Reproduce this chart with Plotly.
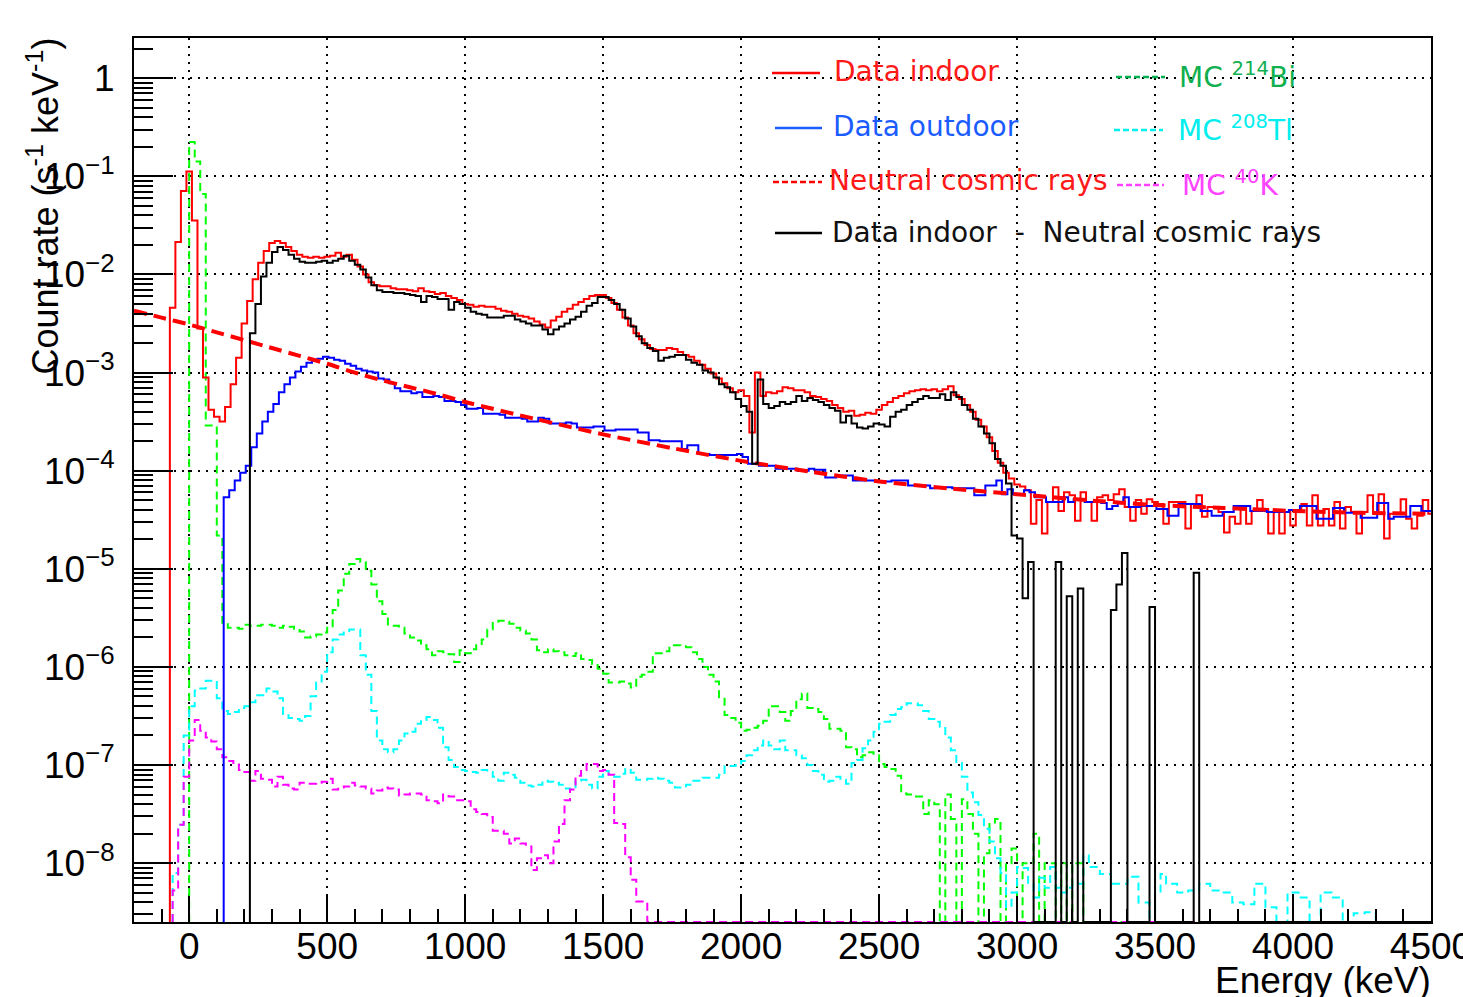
import math
import plotly.graph_objects as go

# ---------------------------------------------------------------------------
# Data. Values are log10 of the count rate
# in s^-1 keV^-1, one value per 20 keV bin, starting at the given energy.
# None = empty bin.
# ---------------------------------------------------------------------------
BIN_KEV = 20.0

indoor_start = -70
indoor_log10 = [
    -2.34, -1.67, -1.15, -0.95, -1.45, -2.55, -3.05, -3.38, -3.45, -3.50,
    -3.35, -3.12, -2.85, -2.50, -2.27, -2.05, -1.88, -1.76, -1.68, -1.66,
    -1.68, -1.72, -1.76, -1.80, -1.82, -1.83, -1.82, -1.83, -1.82, -1.81,
    -1.78, -1.82, -1.80, -1.85, -1.92, -2.00, -2.08, -2.11, -2.12, -2.12,
    -2.14, -2.15, -2.15, -2.16, -2.17, -2.14, -2.17, -2.18, -2.20, -2.19,
    -2.22, -2.24, -2.26, -2.30, -2.31, -2.33, -2.32, -2.33, -2.33, -2.35,
    -2.37, -2.38, -2.40, -2.42, -2.43, -2.45, -2.48, -2.51, -2.54, -2.47,
    -2.43, -2.38, -2.35, -2.31, -2.28, -2.25, -2.22, -2.21, -2.21, -2.24,
    -2.29, -2.36, -2.44, -2.52, -2.60, -2.66, -2.72, -2.76, -2.77, -2.77,
    -2.75, -2.76, -2.79, -2.82, -2.84, -2.88, -2.92, -2.96, -3.01, -3.06,
    -3.11, -3.16, -3.20, -3.18, -3.24, -3.61, -3.00, -3.24, -3.20, -3.21,
    -3.19, -3.15, -3.16, -3.18, -3.18, -3.20, -3.24, -3.25, -3.27, -3.29,
    -3.33, -3.36, -3.40, -3.39, -3.44, -3.43, -3.41, -3.42, -3.38, -3.33,
    -3.30, -3.26, -3.24, -3.21, -3.19, -3.18, -3.17, -3.18, -3.17, -3.19,
    -3.17, -3.14, -3.23, -3.27, -3.33, -3.40, -3.48, -3.55, -3.66, -3.80,
    -3.92, -4.02, -4.08, -4.14, -4.16, -4.20, -4.54, -4.30, -4.64, -4.32,
    -4.17, -4.41, -4.22, -4.25, -4.51, -4.22, -4.32, -4.51, -4.27, -4.25,
    -4.30, -4.24, -4.19, -4.37, -4.51, -4.30, -4.44, -4.29, -4.32, -4.34,
    -4.54, -4.32, -4.32, -4.32, -4.59, -4.34, -4.25, -4.47, -4.37, -4.37,
    -4.42, -4.63, -4.47, -4.54, -4.37, -4.54, -4.41, -4.30, -4.39, -4.64,
    -4.41, -4.64, -4.42, -4.56, -4.41, -4.34, -4.56, -4.25, -4.56, -4.39,
    -4.56, -4.32, -4.59, -4.37, -4.42, -4.64, -4.42, -4.25, -4.44, -4.24,
    -4.69, -4.44, -4.44, -4.29, -4.49, -4.59, -4.46, -4.30, -4.44,
]

outdoor_start = 125
outdoor_log10 = [
    -4.27, -4.20, -4.10, -4.02, -3.95, -3.76, -3.62, -3.50, -3.40, -3.32,
    -3.20, -3.12, -3.05, -2.99, -2.94, -2.90, -2.87, -2.86, -2.84, -2.85,
    -2.87, -2.88, -2.91, -2.93, -2.96, -2.98, -2.99, -3.00, -3.06, -3.07,
    -3.11, -3.16, -3.19, -3.19, -3.21, -3.20, -3.25, -3.25, -3.24, -3.25,
    -3.29, -3.29, -3.30, -3.33, -3.37, -3.37, -3.36, -3.42, -3.42, -3.42,
    -3.43, -3.46, -3.46, -3.46, -3.47, -3.50, -3.50, -3.46, -3.47, -3.52,
    -3.52, -3.52, -3.51, -3.52, -3.56, -3.56, -3.56, -3.55, -3.55, -3.59,
    -3.59, -3.58, -3.58, -3.58, -3.58, -3.61, -3.61, -3.69, -3.69, -3.70,
    -3.70, -3.70, -3.70, -3.78, -3.74, -3.74, -3.83, -3.83, -3.84, -3.84,
    -3.84, -3.84, -3.84, -3.83, -3.86, -3.93, -3.93, -3.95, -3.95, -3.95,
    -3.98, -3.98, -3.98, -3.98, -4.00, -4.00, -3.98, -3.99, -3.99, -4.07,
    -4.07, -4.05, -4.05, -4.05, -4.10, -4.10, -4.10, -4.10, -4.11, -4.11,
    -4.11, -4.10, -4.10, -4.10, -4.15, -4.15, -4.15, -4.15, -4.18, -4.17,
    -4.17, -4.17, -4.18, -4.18, -4.18, -4.18, -4.25, -4.25, -4.15, -4.15,
    -4.10, -4.24, -4.19, -4.24, -4.24, -4.20, -4.22, -4.27, -4.27, -4.32,
    -4.32, -4.32, -4.27, -4.32, -4.29, -4.30, -4.32, -4.32, -4.32, -4.33,
    -4.39, -4.36, -4.33, -4.27, -4.37, -4.37, -4.36, -4.36, -4.36, -4.39,
    -4.39, -4.46, -4.46, -4.34, -4.34, -4.34, -4.34, -4.41, -4.41, -4.46,
    -4.46, -4.42, -4.42, -4.36, -4.36, -4.36, -4.41, -4.41, -4.41, -4.42,
    -4.42, -4.42, -4.42, -4.40, -4.40, -4.36, -4.36, -4.36, -4.49, -4.49,
    -4.49, -4.38, -4.38, -4.43, -4.43, -4.43, -4.48, -4.48, -4.48, -4.33,
    -4.33, -4.49, -4.47, -4.47, -4.47, -4.36, -4.36, -4.41, -4.41,
]

subtracted_start = 220
subtracted_log10 = [
    -2.60, -2.30, -2.02, -1.88, -1.77, -1.72, -1.75, -1.80, -1.84, -1.87,
    -1.88, -1.88, -1.87, -1.86, -1.88, -1.86, -1.84, -1.81, -1.86, -1.90,
    -1.95, -2.03, -2.11, -2.16, -2.18, -2.18, -2.19, -2.19, -2.20, -2.21,
    -2.22, -2.28, -2.22, -2.23, -2.25, -2.25, -2.36, -2.28, -2.30, -2.34,
    -2.38, -2.40, -2.41, -2.44, -2.44, -2.44, -2.42, -2.42, -2.46, -2.48,
    -2.50, -2.52, -2.52, -2.56, -2.61, -2.56, -2.53, -2.50, -2.46, -2.43,
    -2.38, -2.32, -2.29, -2.23, -2.23, -2.26, -2.30, -2.36, -2.45, -2.53,
    -2.63, -2.70, -2.75, -2.78, -2.88, -2.85, -2.84, -2.82, -2.82, -2.87,
    -2.90, -2.92, -2.98, -3.00, -3.05, -3.12, -3.15, -3.20, -3.27, -3.34,
    -3.40, -3.93, -3.07, -3.32, -3.36, -3.34, -3.30, -3.32, -3.30, -3.24,
    -3.29, -3.26, -3.28, -3.30, -3.33, -3.36, -3.39, -3.51, -3.44, -3.52,
    -3.56, -3.57, -3.55, -3.52, -3.53, -3.55, -3.45, -3.40, -3.38, -3.33,
    -3.30, -3.27, -3.24, -3.26, -3.26, -3.22, -3.28, -3.20, -3.25, -3.33,
    -3.38, -3.47, -3.55, -3.62, -3.72, -3.88, -3.95, -4.13, -4.66, -4.69,
    -5.30, -4.93, None, None, None, None, -4.93, None, -5.28, None,
    -5.20, None, None, None, None, None, -5.42, -5.16, -4.84, None,
    None, None, None, -5.39, None, None, None, None, None, None,
    None, -5.04,
]

bi214_start = 0
bi214_log10 = [
    -0.65, -0.85, -1.18, -3.54, -3.54, -4.66, -5.55, -5.60, -5.60, -5.61,
    -5.57, -5.58, -5.58, -5.57, -5.57, -5.58, -5.60, -5.58, -5.59, -5.61,
    -5.64, -5.70, -5.69, -5.67, -5.65, -5.60, -5.42, -5.22, -5.05, -4.95,
    -4.90, -4.93, -5.02, -5.16, -5.33, -5.46, -5.58, -5.58, -5.60, -5.66,
    -5.70, -5.73, -5.78, -5.82, -5.88, -5.84, -5.85, -5.87, -5.95, -5.83,
    -5.86, -5.82, -5.78, -5.72, -5.62, -5.54, -5.53, -5.54, -5.56, -5.60,
    -5.63, -5.66, -5.72, -5.83, -5.85, -5.82, -5.84, -5.85, -5.88, -5.89,
    -5.86, -5.92, -5.93, -5.97, -6.02, -6.07, -6.16, -6.16, -6.15, -6.17,
    -6.21, -6.10, -6.08, -6.05, -5.86, -5.86, -5.84, -5.78, -5.78, -5.79,
    -5.80, -5.85, -5.92, -6.00, -6.08, -6.15, -6.31, -6.49, -6.52, -6.57,
    -6.65, -6.64, -6.62, -6.60, -6.55, -6.40, -6.40, -6.46, -6.55, -6.45,
    -6.33, -6.27, -6.42, -6.43, -6.46, -6.53, -6.63, -6.63, -6.65, -6.82,
    -6.84, -6.92, -6.90, -6.87, -6.90, -6.99, -7.02, -7.04, -7.11, -7.29,
    -7.30, -7.32, -7.32, -7.50, -7.36, -7.40, None, -7.30, -7.55, None,
    -7.35, -7.50, -7.70, None, -7.90, -7.60, -7.55, None, -8.00, -7.85,
    None, -8.00, -8.00, -7.70, None, -8.00, -8.00, None, -8.00, None,
    -8.00, -8.00,
]

tl208_start = -60
tl208_log10 = [
    -8.10, -7.61, -6.70, -6.40, -6.24, -6.22, -6.14, -6.14, -6.32, -6.45,
    -6.48, -6.46, -6.42, -6.40, -6.36, -6.29, -6.29, -6.22, -6.25, -6.32,
    -6.48, -6.52, -6.53, -6.55, -6.50, -6.30, -6.16, -6.05, -5.85, -5.72,
    -5.67, -5.65, -5.62, -5.62, -5.88, -6.08, -6.45, -6.75, -6.84, -6.87,
    -6.84, -6.75, -6.68, -6.66, -6.58, -6.54, -6.51, -6.54, -6.62, -6.82,
    -6.95, -7.02, -7.05, -7.06, -7.07, -7.08, -7.05, -7.07, -7.12, -7.16,
    -7.08, -7.10, -7.13, -7.18, -7.21, -7.22, -7.20, -7.16, -7.17, -7.18,
    -7.20, -7.24, -7.25, -7.16, -7.15, -7.20, -7.24, -7.12, -7.06, -7.10,
    -7.12, -7.09, -7.04, -7.08, -7.15, -7.15, -7.14, -7.13, -7.14, -7.16,
    -7.18, -7.23, -7.22, -7.20, -7.16, -7.16, -7.13, -7.13, -7.13, -7.10,
    -7.01, -7.01, -7.00, -6.96, -6.90, -6.85, -6.80, -6.75, -6.80, -6.84,
    -6.75, -6.85, -6.85, -6.90, -6.93, -7.00, -7.06, -7.10, -7.17, -7.16,
    -7.12, -7.15, -7.19, -6.98, -6.95, -6.83, -6.75, -6.66, -6.58, -6.56,
    -6.49, -6.43, -6.41, -6.37, -6.37, -6.39, -6.45, -6.53, -6.56, -6.61,
    -6.72, -6.85, -6.98, -7.12, -7.28, -7.38, -7.51, -7.65, -7.78, -7.95,
    -8.10, -8.45, -8.30, -8.04, -8.05, -8.20, -8.35, -8.15, -8.25, -8.04,
    -8.25, -8.30, -8.25, -8.21, -8.21, -7.92, -8.04, -8.04, -8.11, -8.11,
    -8.21, -8.21, -8.21, -8.14, -8.14, -8.40, -8.40, None, -8.30, -8.11,
    -8.21, -8.21, -8.30, -8.30, -8.28, -8.28, -8.21, -8.21, -8.28, -8.28,
    -8.30, -8.30, -8.40, -8.40, -8.42, -8.42, -8.21, -8.21, -8.45, -8.45,
    None, None, -8.30, -8.30, -8.35, -8.35, None, None, -8.30, -8.30,
    -8.35, -8.35, None, None, -8.51, -8.51, -8.50, -8.50,
]

k40_start = -60
k40_log10 = [
    -8.28, -7.61, -7.12, -6.75, -6.54, -6.65, -6.72, -6.76, -6.84, -6.92,
    -6.96, -6.98, -7.05, -7.07, -7.16, -7.06, -7.14, -7.15, -7.22, -7.12,
    -7.20, -7.24, -7.25, -7.18, -7.19, -7.19, -7.18, -7.17, -7.14, -7.25,
    -7.23, -7.22, -7.18, -7.21, -7.22, -7.24, -7.29, -7.26, -7.23, -7.24,
    -7.25, -7.31, -7.30, -7.29, -7.29, -7.30, -7.36, -7.37, -7.39, -7.30,
    -7.32, -7.36, -7.36, -7.37, -7.45, -7.48, -7.50, -7.53, -7.67, -7.67,
    -7.70, -7.80, -7.75, -7.80, -7.83, -8.07, -7.95, -7.92, -8.00, -7.78,
    -7.60, -7.36, -7.25, -7.11, -7.05, -6.99, -6.99, -7.06, -7.05, -7.10,
    -7.59, -7.60, -7.94, -8.17, -8.39, -8.39,
]

# Neutral cosmic-ray model curve (smooth function), sampled energies/values
cosmic_energy = [-200, -100, 0, 100, 200, 300, 400, 500, 600, 700, 800, 900,
                 1000, 1250, 1500, 1750, 2000, 2250, 2500, 2750, 3000, 3250,
                 3500, 3750, 4000, 4250, 4500]
cosmic_log10 = [-2.37, -2.44, -2.51, -2.59, -2.67, -2.75, -2.83, -2.91, -3.00,
                -3.08, -3.15, -3.22, -3.30, -3.47, -3.63, -3.77, -3.90, -4.01,
                -4.11, -4.18, -4.24, -4.30, -4.35, -4.38, -4.41, -4.43, -4.44]

x_tick_values = [0, 500, 1000, 1500, 2000, 2500, 3000, 3500, 4000, 4500]
y_tick_values = [1e-8, 1e-7, 1e-6, 1e-5, 1e-4, 1e-3, 1e-2, 1e-1, 1]
y_tick_text = ["10<sup>\u22128</sup>", "10<sup>\u22127</sup>", "10<sup>\u22126</sup>",
               "10<sup>\u22125</sup>", "10<sup>\u22124</sup>", "10<sup>\u22123</sup>",
               "10<sup>\u22122</sup>", "10<sup>\u22121</sup>", "1"]

# ---------------------------------------------------------------------------
X_RANGE = [-200, 4500]
Y_RANGE_LOG = [-8.6, 0.41]
Y_BOTTOM = 10 ** Y_RANGE_LOG[0]

W, H = 1463, 997
ML, MR, MT, MB = 134, 32, 38, 75
PW, PH = W - ML - MR, H - MT - MB


def px_x(p):
    return (p - ML) / PW


def px_y(p):
    return (H - MB - p) / PH


def step_xy(start, logs):
    n_total = math.ceil((X_RANGE[1] - start) / BIN_KEV)
    vals = list(logs) + [None] * max(0, n_total - len(logs))
    xs, ys = [start], [Y_BOTTOM]
    for i, v in enumerate(vals):
        xs.append(start + i * BIN_KEV)
        ys.append(Y_BOTTOM if v is None else 10 ** v)
    xs.append(start + len(vals) * BIN_KEV)
    ys.append(ys[-1])
    return xs, ys


fig = go.Figure()

MC_DASH = "8px,5px"


def add_hist(start, logs, color, width, dash="solid", name=""):
    xs, ys = step_xy(start, logs)
    fig.add_trace(go.Scatter(x=xs, y=ys, mode="lines", line_shape="hv",
                             line=dict(color=color, width=width, dash=dash),
                             name=name, showlegend=False, hoverinfo="skip"))


add_hist(bi214_start, bi214_log10, "#00ff00", 2, MC_DASH, "MC 214Bi")
add_hist(tl208_start, tl208_log10, "#00ffff", 2, MC_DASH, "MC 208Tl")
add_hist(k40_start, k40_log10, "#ff00ff", 2, MC_DASH, "MC 40K")
add_hist(indoor_start, indoor_log10, "#ff0000", 2, name="Data indoor")
add_hist(outdoor_start, outdoor_log10, "#0000ff", 2, name="Data outdoor")

fig.add_trace(go.Scatter(
    x=cosmic_energy, y=[10 ** v for v in cosmic_log10], mode="lines",
    line=dict(color="#ff0000", width=4, dash="13px,7px", shape="spline", smoothing=0.6),
    showlegend=False, hoverinfo="skip", name="Neutral cosmic rays"))

add_hist(subtracted_start, subtracted_log10, "#000000", 2,
         name="Data indoor - Neutral cosmic rays")

# y minor ticks (2..9 x 10^n)
y_minor = [k * 10.0 ** n for n in range(-9, 1) for k in range(2, 10)
           if Y_RANGE_LOG[0] <= math.log10(k * 10.0 ** n) <= Y_RANGE_LOG[1]]

TICK_FONT = dict(family="Liberation Sans, Arial, sans-serif", size=37, color="black")
GRID_DASH = "2px,6px"

fig.update_layout(
    width=W, height=H, autosize=False,
    margin=dict(l=ML, r=MR, t=MT, b=MB, pad=0, autoexpand=False),
    paper_bgcolor="white", plot_bgcolor="white",
    showlegend=False,
    xaxis=dict(
        range=X_RANGE, tickmode="array", tickvals=x_tick_values,
        ticks="inside", ticklen=26, tickwidth=2, tickcolor="black",
        minor=dict(dtick=100, tick0=0, ticks="inside", ticklen=13, tickwidth=2,
                   tickcolor="black", showgrid=False),
        showgrid=True, gridcolor="black", gridwidth=2, griddash=GRID_DASH,
        showline=True, linecolor="black", linewidth=2, mirror=True,
        zeroline=False, tickfont=TICK_FONT, automargin=False,
        ticklabeloverflow="allow", ticklabelstandoff=-9,
    ),
    yaxis=dict(
        type="log", range=Y_RANGE_LOG, tickmode="array",
        tickvals=y_tick_values, ticktext=y_tick_text,
        ticks="inside", ticklen=39, tickwidth=2, tickcolor="black",
        minor=dict(tickmode="array", tickvals=y_minor, ticks="inside", ticklen=19,
                   tickwidth=2, tickcolor="black", showgrid=False),
        showgrid=True, gridcolor="black", gridwidth=2, griddash=GRID_DASH,
        showline=True, linecolor="black", linewidth=2, mirror=True,
        zeroline=False, tickfont=TICK_FONT, ticklabelstandoff=10, automargin=False,
    ),
)

# Axis titles (ROOT style: aligned to the axis ends)
fig.add_annotation(text="Energy (keV)", xref="paper", yref="paper",
                   x=px_x(1433), y=px_y(958), xanchor="right", yanchor="top",
                   showarrow=False, font=TICK_FONT)
fig.add_annotation(text="Count rate (s<sup>-1</sup> keV<sup>-1</sup>)",
                   xref="paper", yref="paper", x=px_x(42), y=px_y(36),
                   xanchor="center", yanchor="top", textangle=-90,
                   showarrow=False,
                   font=dict(family="Liberation Sans, Arial, sans-serif", size=36,
                             color="black"))

# Legend (drawn manually to match the two-column layout with coloured text)
LEG_FONT = "DejaVu Sans, sans-serif"
LEG_SIZE = 28
legend_items = [
    # (line x0, line x1, y, line color, dash, text x, text, text color)
    (772, 820, 73, "#ff0000", "solid", 832, "Data indoor", "#ff1a1a"),
    (775, 822, 128, "#1a5cff", "solid", 831, "Data outdoor", "#1a5cff"),
    (773, 822, 182, "#ff0000", "6px,3px", 827, "Neutral cosmic rays", "#ff1a1a"),
    (775, 822, 233, "#000000", "solid", 830, "Data indoor  -  Neutral cosmic rays", "#111111"),
    (1116, 1165, 77, "#00b050", "6px,3px", 1177, "MC <sup>214</sup>Bi", "#10b050"),
    (1114, 1163, 130, "#00f0f0", "6px,3px", 1176, "MC <sup>208</sup>Tl", "#00eeee"),
    (1117, 1164, 185, "#ff40ff", "6px,3px", 1180, "MC <sup>40</sup>K", "#ff44ff"),
]
for x0, x1, y, lc, dash, tx, txt, tc in legend_items:
    fig.add_shape(type="line", xref="paper", yref="paper",
                  x0=px_x(x0), x1=px_x(x1), y0=px_y(y), y1=px_y(y),
                  line=dict(color=lc, width=2.5, dash=dash))
    fig.add_annotation(text=txt, xref="paper", yref="paper",
                       x=px_x(tx), y=px_y(y - 1), xanchor="left", yanchor="middle",
                       showarrow=False,
                       font=dict(family=LEG_FONT, size=LEG_SIZE, color=tc))

fig.write_html("out.html", config={"displayModeBar": False})
